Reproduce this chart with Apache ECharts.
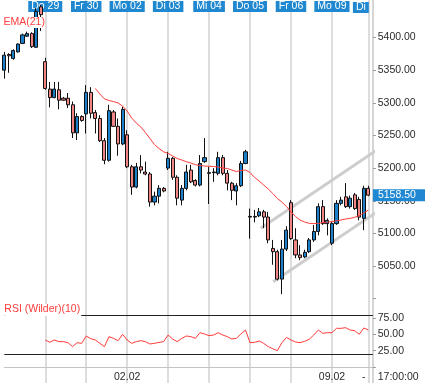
<!DOCTYPE html>
<html><head><meta charset="utf-8">
<script src="https://cdn.jsdelivr.net/npm/echarts@6/dist/echarts.min.js"></script>
<style>html,body{margin:0;padding:0;background:#fff}#c{width:425px;height:383px}</style>
</head><body><div id="c"></div>
<script>
// ---- data ----
const dayLabels   = ['Do 29','Fr 30','Mo 02','Di 03','Mi 04','Do 05','Fr 06','Mo 09','Di'];
const dayStartIdx = [9,18,27,36,45,54,63,72,80];
const dateLabels  = ['02.02','09.02','-'];
const dateLabelIdx= [27,72,79];
const lastTime    = '17:00:00';
const priceLabels = [5050,5100,5150,5200,5250,5300,5350,5400];
const rsiLabels   = [25,50,75];
const opens  = [5350,5374,5368,5378,5391,5402,5406,5385,5447,5363,5321,5308,5320,5307,5307,5297,5254,5279,5283,5316,5285,5276,5242,5212,5286,5264,5237,5251,5202,5171,5202,5194,5191,5148,5157,5169,5200,5215,5186,5151,5169,5197,5181,5174,5210,5192,5193,5192,5216,5192,5177,5165,5173,5207,5125,5125,5127,5133,5125,5077,5072,5030,5076,5147,5090,5067,5064,5072,5090,5103,5141,5115,5085,5115,5146,5156,5141,5159,5152,5123,5169];
const closes = [5373,5372,5380,5390,5404,5406,5386,5440,5435,5322,5308,5321,5304,5304,5297,5254,5279,5273,5316,5284,5276,5242,5212,5288,5264,5237,5290,5202,5171,5202,5197,5191,5148,5157,5169,5165,5215,5186,5154,5169,5194,5179,5174,5207,5216,5193,5194,5216,5192,5177,5166,5173,5207,5225,5126,5126,5133,5125,5090,5072,5030,5076,5105,5092,5067,5063,5071,5090,5103,5141,5115,5120,5115,5146,5151,5141,5154,5138,5125,5169,5158.5];
const lows   = [5337,5346,5366,5377,5390,5401,5384,5384,5410,5320,5293,5307,5290,5303,5292,5246,5243,5271,5253,5276,5253,5240,5206,5210,5263,5219,5235,5200,5159,5169,5192,5189,5141,5143,5146,5163,5197,5182,5143,5143,5166,5177,5172,5172,5208,5145,5179,5189,5189,5166,5151,5143,5171,5206,5092,5117,5125,5108,5085,5052,5028,5007,5073,5090,5062,5059,5062,5070,5087,5097,5113,5097,5082,5113,5143,5139,5138,5136,5120,5105,5157];
const highs  = [5378,5376,5382,5391,5406,5409,5408,5445,5450,5369,5332,5332,5332,5309,5315,5302,5284,5281,5327,5324,5289,5281,5246,5297,5289,5276,5294,5258,5205,5208,5220,5210,5194,5164,5174,5171,5225,5217,5189,5174,5205,5205,5183,5220,5246,5202,5200,5225,5220,5197,5179,5177,5211,5228,5138,5136,5139,5136,5133,5090,5075,5090,5111,5151,5108,5082,5075,5093,5113,5146,5151,5123,5118,5151,5156,5177,5158,5162,5156,5173,5173];
const ema21  = [null,null,null,null,null,null,null,null,null,null,null,null,null,null,null,null,null,null,null,null,
  5322,5313.5,5306,5303.5,5302,5299.7,5295,5287.4,5276.7,5269,5263,5254.5,5245.6,5236,5230,5225,5222.6,5218.5,5214.7,5212.4,5209.8,5207.8,5205.2,5204,5203.2,5202.9,5202.4,5201.7,5200.1,5199.4,5197.1,5194.8,5196.3,5197.1,5193.3,5185.6,5180.2,5174.1,5168,5161.1,5153.4,5148,5141.2,5133.2,5125.8,5120.5,5117.4,5115.4,5115.1,5115.4,5116.7,5117.4,5117.9,5119.3,5120.5,5122,5123.1,5124.6,5127.4,5131.2,5135.8];
const rsi10  = [null,null,null,null,null,null,null,null,null,
  41.5,38,41.5,39,39,37.4,31.3,37.4,36.4,47.7,43.6,41.5,36.4,31.3,46.7,44.1,40.5,50.3,41.5,36.4,39,40.5,39,35.4,36.4,37.9,39,49.2,43,39,44.1,47.7,46.7,44.1,52.8,50.8,48.2,49.2,52.8,49.2,46.7,43,44.1,50.8,56.9,37.4,37.9,40,36.4,31.3,28.2,25.1,37.4,45.6,41.5,38.5,37.4,39.5,42.6,49.2,56.9,51.8,52.8,52.8,59.5,59.5,60.5,56.9,55.9,50.3,60,56.9];
const upperChannel = [[56.35,5108],[81.85,5227.7]];
const lowerChannel = [[59.1,5026],[81.9,5133]];
const rsiLevels = [80,20];

// ---- chart ----
const N = 82;
const cats = Array.from({length:N},(_, i)=>i);
const candles = opens.map((o,i)=>[o,closes[i],lows[i],highs[i]]);
const BLUE='#1c7fc9', RED='#f08585', GRIDC='#d2d2d2', TXT='#2b2b2b';
const FONT='Liberation Sans';
const L=4.3, W=368.6;
const lastClose = closes[closes.length-1];
const chart = echarts.init(document.getElementById('c'),null,{renderer:'canvas'});
chart.setOption({
  animation:false,
  backgroundColor:'#fff',
  textStyle:{fontFamily:FONT},
  grid:[
    {left:L,width:W,top:5,height:293.7},
    {left:L,width:W,top:302.06,height:64.94},
    {left:L,width:W,top:0,height:383},
    {left:L,width:W,top:5,height:293.7}
  ],
  xAxis:[
    {type:'category',gridIndex:0,data:cats,boundaryGap:false,axisLine:{show:false},axisTick:{show:false},axisLabel:{show:false},splitLine:{show:false}},
    {type:'category',gridIndex:1,data:cats,boundaryGap:false,position:'bottom',offset:3,
      axisLine:{show:true,lineStyle:{color:'#c4c4c4',width:1}},axisTick:{show:false},splitLine:{show:false},
      axisLabel:{show:true,interval:(i)=>dateLabelIdx.includes(i),formatter:(v)=>{const k=dateLabelIdx.indexOf(+v);return k<0?'':dateLabels[k];},
        color:TXT,fontSize:10.5,fontFamily:FONT,margin:2}},
    {type:'category',gridIndex:2,data:cats,boundaryGap:false,position:'top',axisLine:{show:false},axisTick:{show:false},
      splitLine:{show:true,interval:(i)=>dayStartIdx.includes(i),lineStyle:{color:GRIDC,width:1.5}},
      axisLabel:{show:true,inside:true,margin:1.5,interval:(i)=>dayStartIdx.includes(i),
        formatter:(v)=>{const k=dayStartIdx.indexOf(+v);if(k<0)return '';const t=dayLabels[k];return k===dayLabels.length-1?'{b|'+t+'}{s| }':'{b|'+t+'}';},
        rich:{b:{color:'#fff',backgroundColor:'#2088d0',fontSize:10.5,fontFamily:FONT,lineHeight:10,padding:[0,3,0,3]},s:{width:15}}}},
    {type:'value',gridIndex:3,min:0,max:81,show:false}
  ],
  yAxis:[
    {type:'value',gridIndex:0,position:'right',min:5000,max:5449.8,interval:50,axisLine:{show:false},
      axisTick:{show:true,length:3,lineStyle:{color:'#9a9a9a'}},splitLine:{show:false},
      axisLabel:{color:TXT,fontSize:10.5,fontFamily:FONT,margin:4.8,showMaxLabel:false,formatter:(v)=>priceLabels.includes(v)?v.toFixed(2):''}},
    {type:'value',gridIndex:1,position:'right',min:0,max:99.9,interval:25,axisLine:{show:false},
      axisTick:{show:true,length:3,lineStyle:{color:'#9a9a9a'}},splitLine:{show:false},
      axisLabel:{color:TXT,fontSize:10.5,fontFamily:FONT,margin:4.8,showMaxLabel:false,formatter:(v)=>rsiLabels.includes(v)?v.toFixed(2):''}},
    {type:'value',gridIndex:2,position:'right',min:0,max:1,axisLine:{show:true,lineStyle:{color:'#c8c8c8',width:1.5}},
      axisTick:{show:false},axisLabel:{show:false},splitLine:{show:false}},
    {type:'value',gridIndex:3,min:5000,max:5449.8,show:false}
  ],
  series:[
    {type:'line',xAxisIndex:3,yAxisIndex:3,data:upperChannel,symbol:'none',clip:false,lineStyle:{color:'#cdcdcd',width:3},z:1},
    {type:'line',xAxisIndex:3,yAxisIndex:3,data:lowerChannel,symbol:'none',clip:false,lineStyle:{color:'#cdcdcd',width:3},z:1},
    {type:'candlestick',xAxisIndex:0,yAxisIndex:0,data:candles,clip:false,barWidth:3.6,
      itemStyle:{color:BLUE,color0:RED,borderColor:'#111',borderColor0:'#111',borderWidth:1}},
    {type:'line',xAxisIndex:0,yAxisIndex:0,data:ema21,symbol:'none',lineStyle:{color:'#ff3b3b',width:1},z:3,
      markLine:{silent:true,symbol:['none','none'],animation:false,
        data:[{yAxis:lastClose}],lineStyle:{color:'rgba(0,0,0,0)',width:1,type:'solid'},
        label:{show:true,position:'end',distance:0,formatter:()=>lastClose.toFixed(2),
          color:'#fff',backgroundColor:'#1f88d3',fontSize:10.5,fontFamily:FONT,lineHeight:11,padding:[1,10,0,5]}}},
    {type:'line',xAxisIndex:1,yAxisIndex:1,data:rsi10,symbol:'none',lineStyle:{color:'#ff3b3b',width:1},
      markLine:{silent:true,symbol:['none','none'],animation:false,data:rsiLevels.map(v=>({yAxis:v})),
        lineStyle:{color:'#222',width:1,type:'solid'},label:{show:false}}}
  ],
  graphic:[
    {type:'text',left:3.5,top:17,z:50,style:{text:'EMA(21)',fill:'#ff3b3b',font:'10.5px "Liberation Sans"',backgroundColor:'#fff'}},
    {type:'text',left:4.3,top:304,z:50,style:{text:'RSI (Wilder)(10)',fill:'#ff3b3b',font:'10.5px "Liberation Sans"',backgroundColor:'#fff',padding:[0,1,1,0]}},
    {type:'text',left:377.7,top:372,z:50,style:{text:lastTime,fill:TXT,font:'10.5px "Liberation Sans"'}}
  ]
});
</script></body></html>
